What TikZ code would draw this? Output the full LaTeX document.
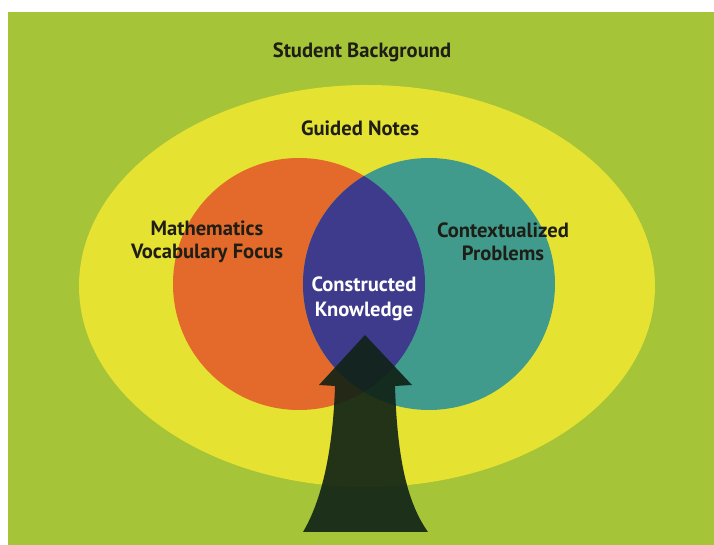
\documentclass[tikz,border=0pt]{standalone}
\usepackage{fontspec}
\setmainfont{PT Sans}
\usetikzlibrary{positioning}
\definecolor{bggreen}{RGB}{165,196,56}
\definecolor{notesyellow}{RGB}{230,226,50}
\definecolor{mathorange}{RGB}{227,106,42}
\definecolor{ctxteal}{RGB}{64,155,140}
\definecolor{knowpurple}{RGB}{62,58,140}
\definecolor{arrowdark}{RGB}{16,34,22}
\definecolor{labeldark}{RGB}{30,30,22}
\tikzset{
  venn label/.style={align=center,font=\bfseries\fontsize{10.3}{11.5}\selectfont,text=labeldark,inner sep=0pt},
  white label/.style={venn label,text=white,font=\bfseries\fontsize{10.3}{12.8}\selectfont},
  grow arrow/.style={fill=arrowdark,fill opacity=0.91},
}
\begin{document}
\begin{tikzpicture}[x=0.5pt,y=-0.5pt]
  \useasboundingbox (0,0) rectangle (714,545);
  \fill[white] (0,0) rectangle (714,545);
  \fill[bggreen] (8,12) rectangle (714,545);
  % nested shapes
  \fill[notesyellow] (367,286) ellipse [x radius=288,y radius=201];
  \fill[mathorange] (299,284) circle [radius=126];
  \fill[ctxteal] (429,284) circle [radius=126];
  \begin{scope}
    \clip (299,284) circle [radius=126];
    \fill[knowpurple] (429,284) circle [radius=126];
  \end{scope}
  % arrow growing up into the middle
  \fill[grow arrow] (365,335) -- (412,385) -- (395,386)
    .. controls (397,450) and (405,500) .. (428,532) -- (303,532)
    .. controls (322,500) and (333,450) .. (335,386) -- (319,385) -- cycle;
  % labels
  \node[venn label] (student) at (362,52) {Student Background};
  \node[venn label] (guided) at (360,128) {Guided Notes};
  \node[venn label] (math) at (207,242) {Mathematics\\Vocabulary Focus};
  \node[venn label] (context) at (503,242) {Contextualized\\Problems};
  \node[white label] (constructed) at (364,299) {Constructed\\Knowledge};
\end{tikzpicture}
\end{document}
